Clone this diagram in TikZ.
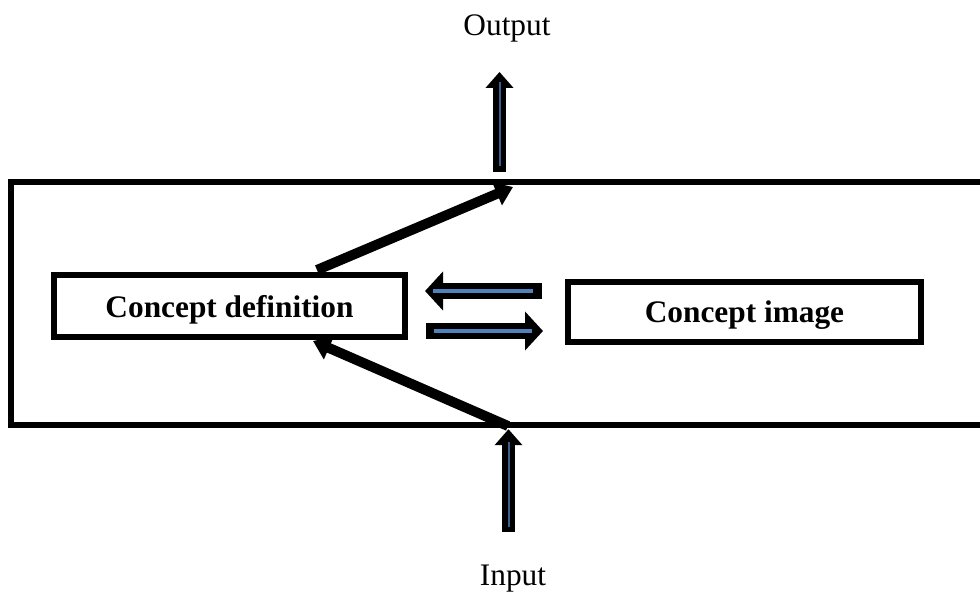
\documentclass[tikz,border=0pt]{standalone}
\usepackage{fontspec}
\setmainfont{Liberation Serif}
\usetikzlibrary{arrows.meta,calc}
\definecolor{hblue}{HTML}{4F81BD}
\definecolor{vblue}{HTML}{3B5F8F}
\begin{document}
\begin{tikzpicture}[x=0.75pt,y=-0.75pt,
  box/.style={draw=black,line width=4.5pt,fill=white,inner sep=0pt,text depth=0pt,font=\fontsize{23.5}{28}\selectfont\bfseries},
  lbl/.style={inner sep=0pt,anchor=base,font=\fontsize{23.5}{28}\selectfont},
  frame/.style={line width=4.5pt,line join=miter},
  heavyarr/.style={line width=7.5pt,-{Triangle[length=13pt,width=18pt]}},
  hblk/.style={line width=12pt,-{Triangle[length=13.5pt,width=28.5pt]}},
  hline/.style={line width=3pt,draw=hblue},
  vblk/.style={line width=9.75pt,-{Triangle[length=12pt,width=20.25pt]}},
  vline/.style={line width=1.5pt,draw=vblue}]
\useasboundingbox (0,0) rectangle (980,596);
% frame (open to the right)
\draw[frame] (995,182) -| (11,424.5) -- (995,424.5);
% boxes
\node[box,minimum width=263.25pt,minimum height=46.5pt] (cd) at (229.5,306) {Concept definition};
\node[box,minimum width=264.75pt,minimum height=45pt] (ci) at (744.5,312) {Concept image};
% labels
\node[lbl] (out) at (507,35) {Output};
\node[lbl] (in) at (513,585) {Input};
% join points on frame
\coordinate (outJoin) at (513,187);
\coordinate (inJoin) at (508,426);
% heavy black arrows
\draw[heavyarr] ([shift={(87.5,-2)}]cd.north) -- (outJoin);
\draw[heavyarr] (inJoin) -- ([shift={(83.5,1)}]cd.south);
% horizontal block arrows
\draw[hblk] ([shift={(-23,-21)}]ci.west) -- ([shift={(17,-15)}]cd.east);
\draw[hline] ([shift={(-32,-21)}]ci.west) -- ([shift={(25,-15)}]cd.east);
\draw[hblk] ([shift={(18,25)}]cd.east) -- ([shift={(-22,19)}]ci.west);
\draw[hline] ([shift={(26,25)}]cd.east) -- ([shift={(-33,19)}]ci.west);
% output arrow
\coordinate (oTip) at ([shift={(-7.5,30)}]out.south);
\coordinate (oBase) at ([shift={(-7.5,130)}]out.south);
\draw[vblk] (oBase) -- (oTip);
\draw[vline] ($(oBase)+(0,-6)$) -- ($(oTip)+(0,10)$);
% input arrow
\coordinate (iTip) at ([shift={(-4.5,-135)}]in.north);
\coordinate (iBase) at ([shift={(-4.5,-32)}]in.north);
\draw[vblk] (iBase) -- (iTip);
\draw[vline] ($(iBase)+(0,-5)$) -- ($(iTip)+(0,13)$);
\end{tikzpicture}
\end{document}
